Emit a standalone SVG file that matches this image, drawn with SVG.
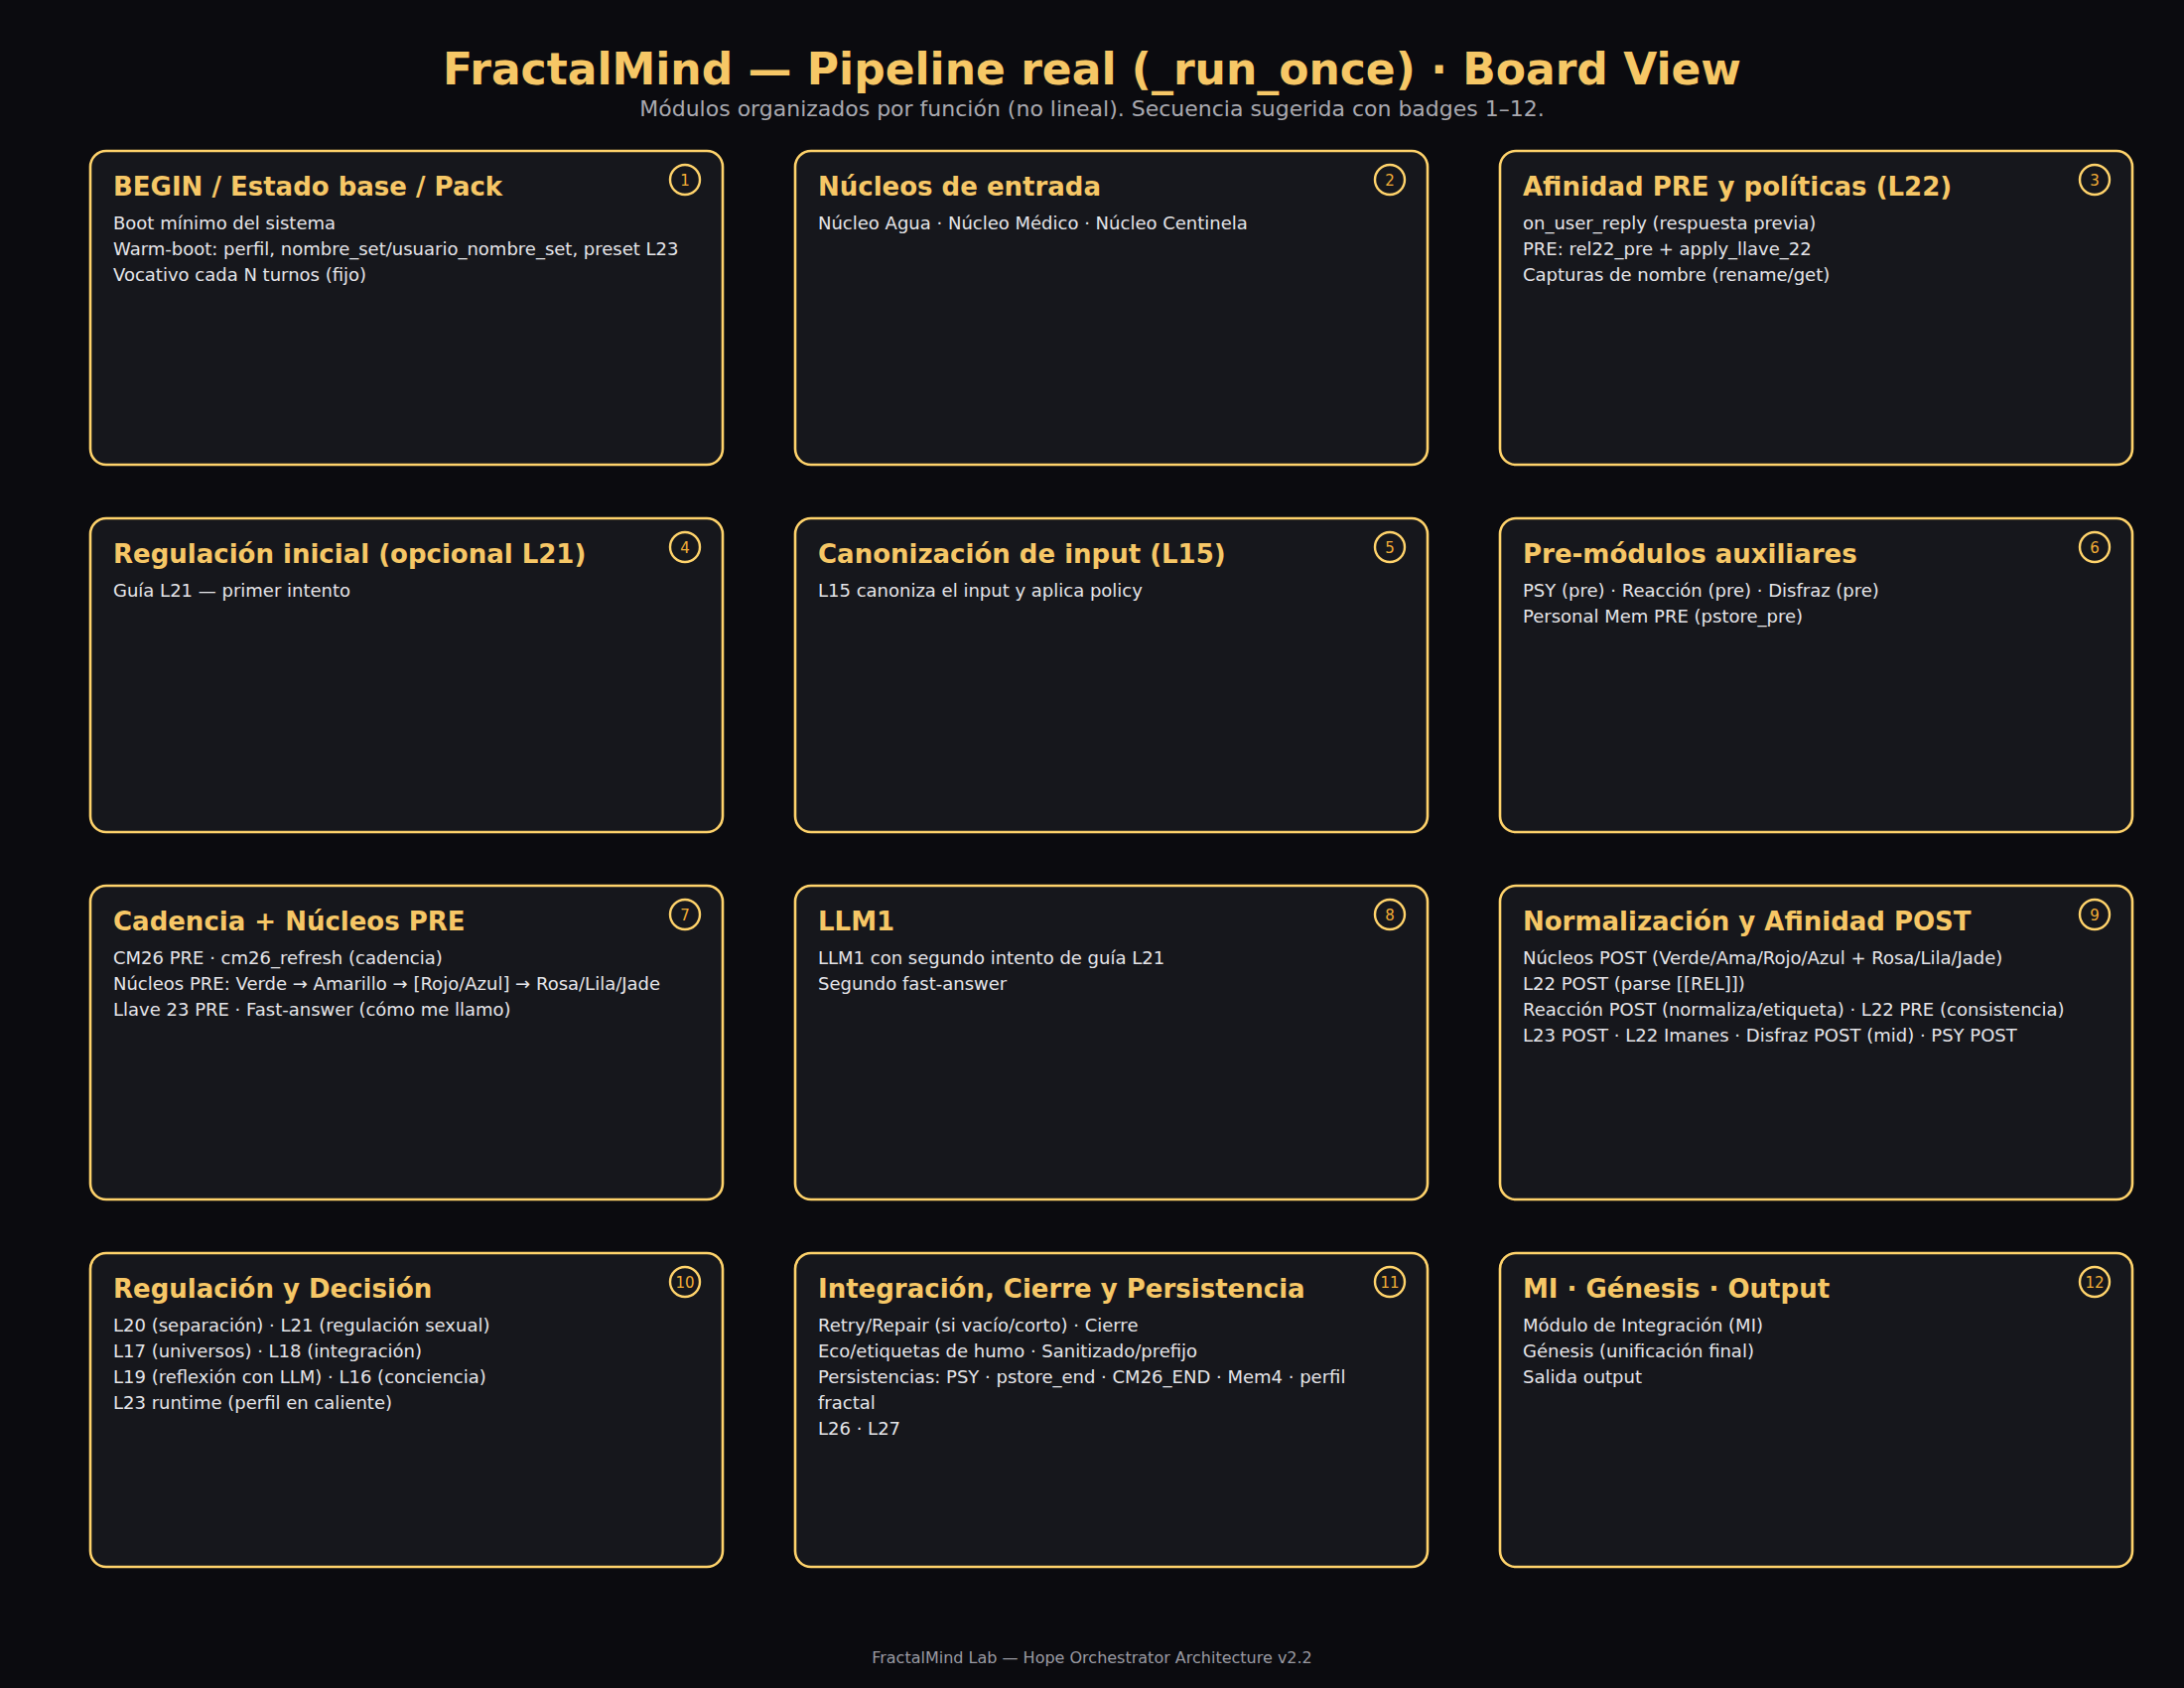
<svg xmlns="http://www.w3.org/2000/svg" width="2200" height="1700" viewBox="0 0 2200 1700">
<style>
.bg{fill:#0b0b0f}
.card{fill:#16171c;stroke:#ffd36b;stroke-width:2.6}
.badge{fill:none;stroke:#ffd36b;stroke-width:2.4}
.bnum{font-family:"DejaVu Sans",sans-serif;font-size:15px;fill:#f2ad36;text-anchor:middle}
.ttl{font-family:"DejaVu Sans",sans-serif;font-weight:bold;font-size:26px;fill:#f6c766}
.ln{font-family:"DejaVu Sans",sans-serif;font-size:18px;fill:#e4e4e8}
.h1{font-family:"DejaVu Sans",sans-serif;font-weight:bold;font-size:44px;fill:#f6c766;text-anchor:middle}
.sub{font-family:"DejaVu Sans",sans-serif;font-size:22px;fill:#a9a9b0;text-anchor:middle}
.foot{font-family:"DejaVu Sans",sans-serif;font-size:16px;fill:#9a9aa2;text-anchor:middle}
</style>
<rect class="bg" x="0" y="0" width="2200" height="1700"/>
<text class="h1" x="1100" y="85">FractalMind — Pipeline real (_run_once) · Board View</text>
<text class="sub" x="1100" y="117">Módulos organizados por función (no lineal). Secuencia sugerida con badges 1–12.</text>
<g id="connectors"></g>

<g id="n1" transform="translate(91,152)">
<rect class="card" x="0" y="0" width="637" height="316" rx="16"/>
<circle class="badge" cx="599" cy="29" r="15"/><text class="bnum" x="599" y="34.5">1</text>
<text class="ttl" x="23" y="45">BEGIN / Estado base / Pack</text>
<text class="ln" x="23" y="79">Boot mínimo del sistema</text>
<text class="ln" x="23" y="105">Warm-boot: perfil, nombre_set/usuario_nombre_set, preset L23</text>
<text class="ln" x="23" y="131">Vocativo cada N turnos (fijo)</text>
</g>
<g id="n2" transform="translate(801,152)">
<rect class="card" x="0" y="0" width="637" height="316" rx="16"/>
<circle class="badge" cx="599" cy="29" r="15"/><text class="bnum" x="599" y="34.5">2</text>
<text class="ttl" x="23" y="45">Núcleos de entrada</text>
<text class="ln" x="23" y="79">Núcleo Agua · Núcleo Médico · Núcleo Centinela</text>
</g>
<g id="n3" transform="translate(1511,152)">
<rect class="card" x="0" y="0" width="637" height="316" rx="16"/>
<circle class="badge" cx="599" cy="29" r="15"/><text class="bnum" x="599" y="34.5">3</text>
<text class="ttl" x="23" y="45">Afinidad PRE y políticas (L22)</text>
<text class="ln" x="23" y="79">on_user_reply (respuesta previa)</text>
<text class="ln" x="23" y="105">PRE: rel22_pre + apply_llave_22</text>
<text class="ln" x="23" y="131">Capturas de nombre (rename/get)</text>
</g>

<g id="n4" transform="translate(91,522)">
<rect class="card" x="0" y="0" width="637" height="316" rx="16"/>
<circle class="badge" cx="599" cy="29" r="15"/><text class="bnum" x="599" y="34.5">4</text>
<text class="ttl" x="23" y="45">Regulación inicial (opcional L21)</text>
<text class="ln" x="23" y="79">Guía L21 — primer intento</text>
</g>
<g id="n5" transform="translate(801,522)">
<rect class="card" x="0" y="0" width="637" height="316" rx="16"/>
<circle class="badge" cx="599" cy="29" r="15"/><text class="bnum" x="599" y="34.5">5</text>
<text class="ttl" x="23" y="45">Canonización de input (L15)</text>
<text class="ln" x="23" y="79">L15 canoniza el input y aplica policy</text>
</g>
<g id="n6" transform="translate(1511,522)">
<rect class="card" x="0" y="0" width="637" height="316" rx="16"/>
<circle class="badge" cx="599" cy="29" r="15"/><text class="bnum" x="599" y="34.5">6</text>
<text class="ttl" x="23" y="45">Pre-módulos auxiliares</text>
<text class="ln" x="23" y="79">PSY (pre) · Reacción (pre) · Disfraz (pre)</text>
<text class="ln" x="23" y="105">Personal Mem PRE (pstore_pre)</text>
</g>

<g id="n7" transform="translate(91,892)">
<rect class="card" x="0" y="0" width="637" height="316" rx="16"/>
<circle class="badge" cx="599" cy="29" r="15"/><text class="bnum" x="599" y="34.5">7</text>
<text class="ttl" x="23" y="45">Cadencia + Núcleos PRE</text>
<text class="ln" x="23" y="79">CM26 PRE · cm26_refresh (cadencia)</text>
<text class="ln" x="23" y="105">Núcleos PRE: Verde → Amarillo → [Rojo/Azul] → Rosa/Lila/Jade</text>
<text class="ln" x="23" y="131">Llave 23 PRE · Fast-answer (cómo me llamo)</text>
</g>
<g id="n8" transform="translate(801,892)">
<rect class="card" x="0" y="0" width="637" height="316" rx="16"/>
<circle class="badge" cx="599" cy="29" r="15"/><text class="bnum" x="599" y="34.5">8</text>
<text class="ttl" x="23" y="45">LLM1</text>
<text class="ln" x="23" y="79">LLM1 con segundo intento de guía L21</text>
<text class="ln" x="23" y="105">Segundo fast-answer</text>
</g>
<g id="n9" transform="translate(1511,892)">
<rect class="card" x="0" y="0" width="637" height="316" rx="16"/>
<circle class="badge" cx="599" cy="29" r="15"/><text class="bnum" x="599" y="34.5">9</text>
<text class="ttl" x="23" y="45">Normalización y Afinidad POST</text>
<text class="ln" x="23" y="79">Núcleos POST (Verde/Ama/Rojo/Azul + Rosa/Lila/Jade)</text>
<text class="ln" x="23" y="105">L22 POST (parse [[REL]])</text>
<text class="ln" x="23" y="131">Reacción POST (normaliza/etiqueta) · L22 PRE (consistencia)</text>
<text class="ln" x="23" y="157">L23 POST · L22 Imanes · Disfraz POST (mid) · PSY POST</text>
</g>

<g id="n10" transform="translate(91,1262)">
<rect class="card" x="0" y="0" width="637" height="316" rx="16"/>
<circle class="badge" cx="599" cy="29" r="15"/><text class="bnum" x="599" y="34.5">10</text>
<text class="ttl" x="23" y="45">Regulación y Decisión</text>
<text class="ln" x="23" y="79">L20 (separación) · L21 (regulación sexual)</text>
<text class="ln" x="23" y="105">L17 (universos) · L18 (integración)</text>
<text class="ln" x="23" y="131">L19 (reflexión con LLM) · L16 (conciencia)</text>
<text class="ln" x="23" y="157">L23 runtime (perfil en caliente)</text>
</g>
<g id="n11" transform="translate(801,1262)">
<rect class="card" x="0" y="0" width="637" height="316" rx="16"/>
<circle class="badge" cx="599" cy="29" r="15"/><text class="bnum" x="599" y="34.5">11</text>
<text class="ttl" x="23" y="45">Integración, Cierre y Persistencia</text>
<text class="ln" x="23" y="79">Retry/Repair (si vacío/corto) · Cierre</text>
<text class="ln" x="23" y="105">Eco/etiquetas de humo · Sanitizado/prefijo</text>
<text class="ln" x="23" y="131">Persistencias: PSY · pstore_end · CM26_END · Mem4 · perfil</text>
<text class="ln" x="23" y="157">fractal</text>
<text class="ln" x="23" y="183">L26 · L27</text>
</g>
<g id="n12" transform="translate(1511,1262)">
<rect class="card" x="0" y="0" width="637" height="316" rx="16"/>
<circle class="badge" cx="599" cy="29" r="15"/><text class="bnum" x="599" y="34.5">12</text>
<text class="ttl" x="23" y="45">MI · Génesis · Output</text>
<text class="ln" x="23" y="79">Módulo de Integración (MI)</text>
<text class="ln" x="23" y="105">Génesis (unificación final)</text>
<text class="ln" x="23" y="131">Salida output</text>
</g>

<text class="foot" x="1100" y="1675">FractalMind Lab — Hope Orchestrator Architecture v2.2</text>
</svg>
